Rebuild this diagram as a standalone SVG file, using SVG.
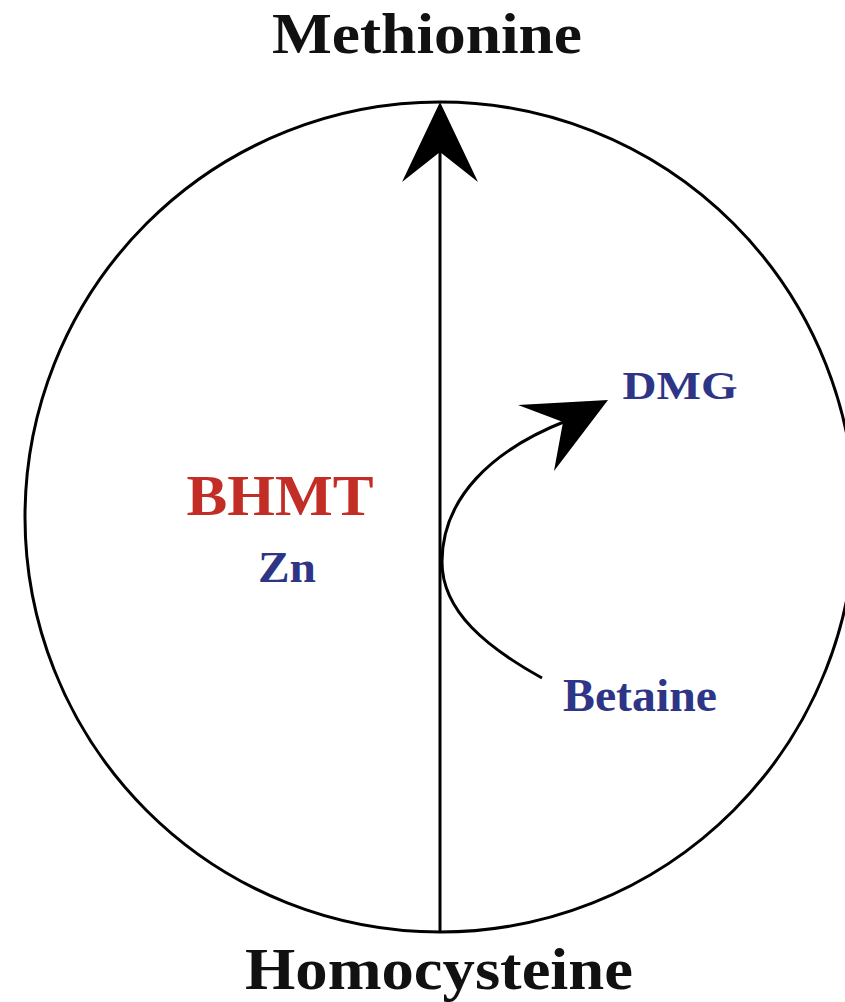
<svg xmlns="http://www.w3.org/2000/svg" width="845" height="1002" viewBox="0 0 845 1002">
<style>
.t{font-family:"Liberation Serif","Times New Roman",serif;font-weight:bold}
.k{fill:#111111}
.b{fill:#2e3586}
.r{fill:#c22d26}
.ln{fill:none;stroke:#000;stroke-width:3}
</style>
<rect width="845" height="1002" fill="#fff"/>
<g id="cycle"><circle class="ln" cx="440" cy="517" r="415"/></g>
<g id="connectors">
<line class="ln" x1="440" y1="933" x2="440" y2="150"/>
<polygon points="440,102 478,182 440,152 402,182" fill="#000"/>
<path class="ln" d="M542,678 C488,648 442,612 442,562 C442,498 492,450 566,421"/>
<polygon points="608,400 554,471 563,422 518,405" fill="#000"/>
</g>
<g id="methionine"><text class="t k" x="427" y="53" font-size="58" text-anchor="middle" textLength="310" lengthAdjust="spacingAndGlyphs">Methionine</text></g>
<g id="homocysteine"><text class="t k" x="439" y="989" font-size="60" text-anchor="middle" textLength="388" lengthAdjust="spacingAndGlyphs">Homocysteine</text></g>
<g id="bhmt"><text class="t r" x="280" y="515" font-size="56" text-anchor="middle" textLength="187" lengthAdjust="spacingAndGlyphs">BHMT</text></g>
<g id="zn"><text class="t b" x="287" y="582" font-size="45" text-anchor="middle" textLength="58" lengthAdjust="spacingAndGlyphs">Zn</text></g>
<g id="dmg"><text class="t b" x="680" y="399" font-size="40" text-anchor="middle" textLength="115" lengthAdjust="spacingAndGlyphs">DMG</text></g>
<g id="betaine"><text class="t b" x="640" y="711" font-size="46" text-anchor="middle" textLength="154" lengthAdjust="spacingAndGlyphs">Betaine</text></g>
</svg>
